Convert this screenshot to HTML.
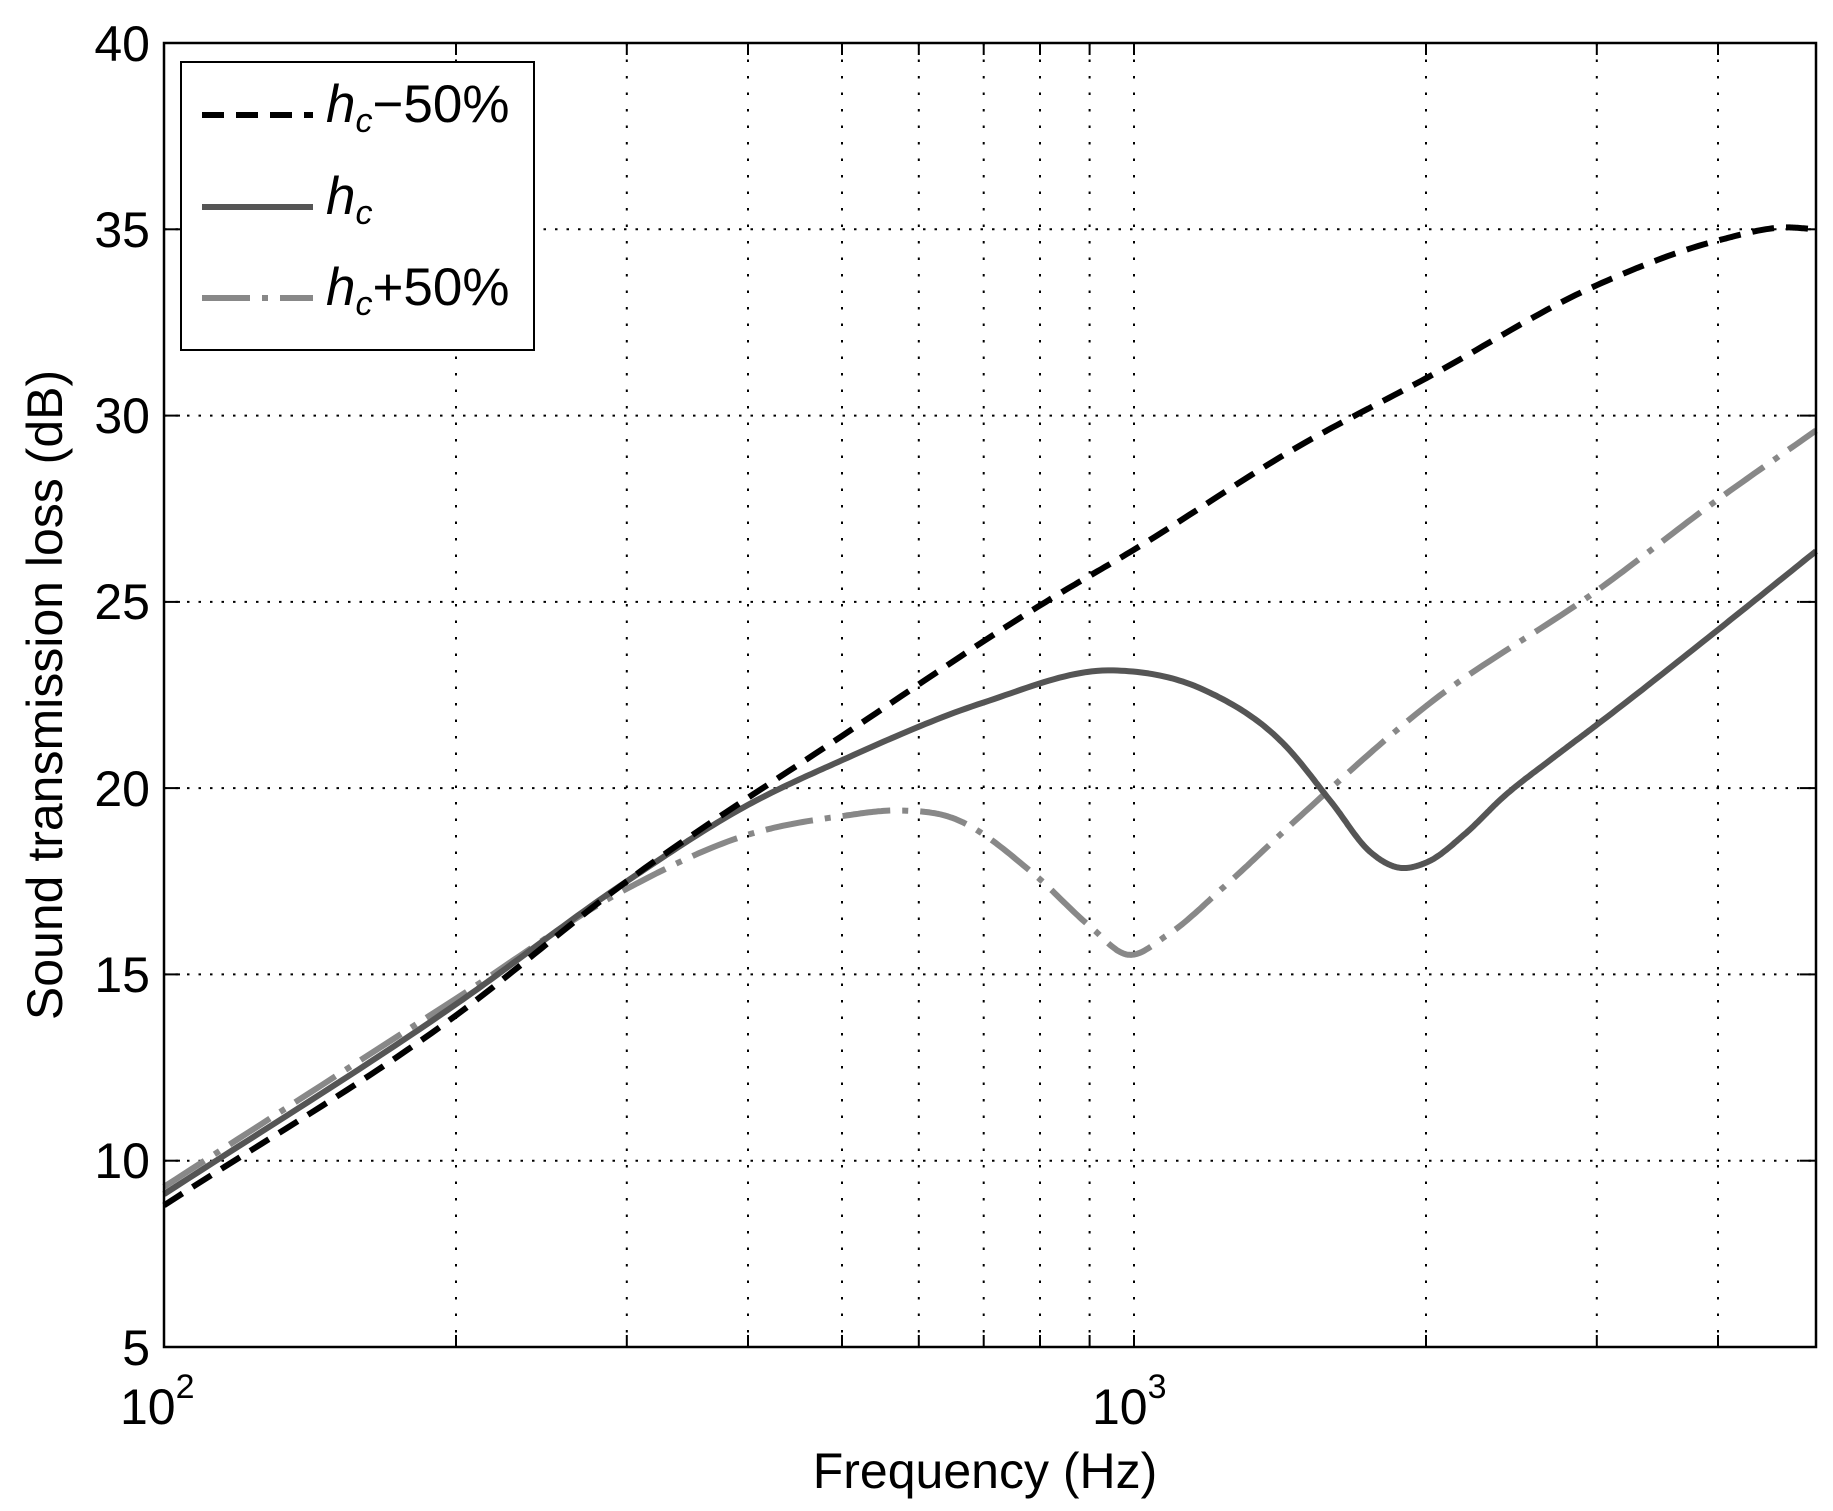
<!DOCTYPE html>
<html><head><meta charset="utf-8"><style>
html,body{margin:0;padding:0;background:#fff;}
svg{display:block;}
text{font-family:"Liberation Sans",Arial,sans-serif;fill:#000;}
</style></head><body>
<svg id="s" width="1833" height="1511" viewBox="0 0 1833 1511" xmlns="http://www.w3.org/2000/svg">
<rect width="1833" height="1511" fill="#fff"/>
<g id="grid" stroke="#000" stroke-width="2" fill="none"></g>
<g id="curves" fill="none" stroke-linejoin="round"></g>
<rect x="164" y="43" width="1652" height="1304" fill="none" stroke="#000" stroke-width="2.5"/>
<g id="ticks" stroke="#000" stroke-width="2"></g>
<g font-size="50" text-anchor="end">
<text x="150" y="61">40</text>
<text x="150" y="247">35</text>
<text x="150" y="433">30</text>
<text x="150" y="619">25</text>
<text x="150" y="806">20</text>
<text x="150" y="992">15</text>
<text x="150" y="1178">10</text>
<text x="150" y="1365">5</text>
</g>
<text x="120" y="1424" font-size="50">10<tspan font-size="34" dy="-26">2</tspan></text>
<text x="1092" y="1424" font-size="50">10<tspan font-size="34" dy="-26">3</tspan></text>
<text x="985" y="1488" font-size="50" text-anchor="middle">Frequency (Hz)</text>
<text transform="translate(62,695) rotate(-90)" font-size="50" text-anchor="middle">Sound transmission loss (dB)</text>
<rect x="181" y="62" width="353" height="288" fill="#fff" stroke="#000" stroke-width="2"/>
<line x1="202" y1="115" x2="313" y2="115" stroke="#000" stroke-width="6" stroke-dasharray="22,12"/>
<line x1="202" y1="207" x2="313" y2="207" stroke="#555" stroke-width="6"/>
<line x1="202" y1="298" x2="313" y2="298" stroke="#888" stroke-width="6" stroke-dasharray="48,12,6,12"/>
<g font-size="53">
<text x="326" y="122" font-style="italic">h<tspan font-size="34" dy="10">c</tspan><tspan font-style="normal" dy="-10">−50%</tspan></text>
<text x="326" y="214" font-style="italic">h<tspan font-size="34" dy="10">c</tspan></text>
<text x="326" y="305" font-style="italic">h<tspan font-size="34" dy="10">c</tspan><tspan font-style="normal" dy="-10">+50%</tspan></text>
</g>
</svg>
<script>
var L=164,R=1816,T=43,B=1347,dec=970;
function X(f){return L+dec*(Math.log10(f)-2);}
function Y(v){return B-(v-5)*(1304/35);}
var fmax=Math.pow(10,2+(R-L)/dec);
var g=document.getElementById('grid'),tk=document.getElementById('ticks'),h='',t='';
var xs=[200,300,400,500,600,700,800,900,1000,2000,3000,4000];
xs.forEach(function(f){var x=X(f).toFixed(1);
 h+='<line x1="'+x+'" y1="'+T+'" x2="'+x+'" y2="'+B+'" stroke-dasharray="2.5,14"/>';
 t+='<line x1="'+x+'" y1="'+B+'" x2="'+x+'" y2="'+(B-12)+'"/><line x1="'+x+'" y1="'+T+'" x2="'+x+'" y2="'+(T+12)+'"/>';});
for(var v=10;v<40;v+=5){var y=Y(v).toFixed(1);
 h+='<line x1="'+L+'" y1="'+y+'" x2="'+R+'" y2="'+y+'" stroke-dasharray="2.5,9"/>';
 t+='<line x1="'+L+'" y1="'+y+'" x2="'+(L+16)+'" y2="'+y+'"/><line x1="'+R+'" y1="'+y+'" x2="'+(R-16)+'" y2="'+y+'"/>';}
g.innerHTML=h;tk.innerHTML=t;
function spl(pts){
 var n=pts.length,x=pts.map(function(p){return Math.log10(p[0]);}),y=pts.map(function(p){return p[1];}),d=[],m=[],i;
 for(i=0;i<n-1;i++)d.push((y[i+1]-y[i])/(x[i+1]-x[i]));
 m[0]=d[0];m[n-1]=d[n-2];
 for(i=1;i<n-1;i++){var h1=x[i]-x[i-1],h2=x[i+1]-x[i];m[i]=(d[i-1]*h2+d[i]*h1)/(h1+h2);}
 var out=[];
 for(i=0;i<n-1;i++){var h=x[i+1]-x[i];
  for(var k=0;k<24;k++){var s=k/24,s2=s*s,s3=s2*s;
   var v=(2*s3-3*s2+1)*y[i]+(s3-2*s2+s)*h*m[i]+(-2*s3+3*s2)*y[i+1]+(s3-s2)*h*m[i+1];
   out.push([L+dec*(x[i]+s*h-2),Y(v)]);}}
 out.push([L+dec*(x[n-1]-2),Y(y[n-1])]);
 return 'M'+out.map(function(p){return p[0].toFixed(1)+','+p[1].toFixed(1);}).join('L');}
var dashed=[[100,8.8],[200,13.9],[300,17.5],[500,21.4],[811,25.0],[1000,26.4],[1484,29.2],[2000,31.0],[3000,33.5],[4000,34.7],[4700,35.05],[fmax,35.0]];
var solid=[[100,9.1],[200,14.2],[300,17.5],[400,19.55],[500,20.75],[700,22.3],[952,23.16],[1189,22.6],[1425,21.2],[1600,19.6],[1750,18.3],[1872,17.87],[2000,18.0],[2200,18.8],[2400,19.75],[2700,20.8],[3000,21.7],[4000,24.25],[fmax,26.36]];
var dd=[[100,9.3],[200,14.35],[300,17.3],[400,18.75],[500,19.25],[570,19.4],[650,19.2],[788,17.7],[900,16.3],[985,15.53],[1084,16.07],[1244,17.4],[1484,19.25],[2000,22.2],[3000,25.3],[4000,27.75],[fmax,29.6]];
document.getElementById('curves').innerHTML=
 '<path d="'+spl(dd)+'" stroke="#888" stroke-width="6" stroke-dasharray="48,12,6,12"/>'+
 '<path d="'+spl(solid)+'" stroke="#555" stroke-width="6"/>'+
 '<path d="'+spl(dashed)+'" stroke="#000" stroke-width="6" stroke-dasharray="22,12"/>';
</script>
</body></html>
